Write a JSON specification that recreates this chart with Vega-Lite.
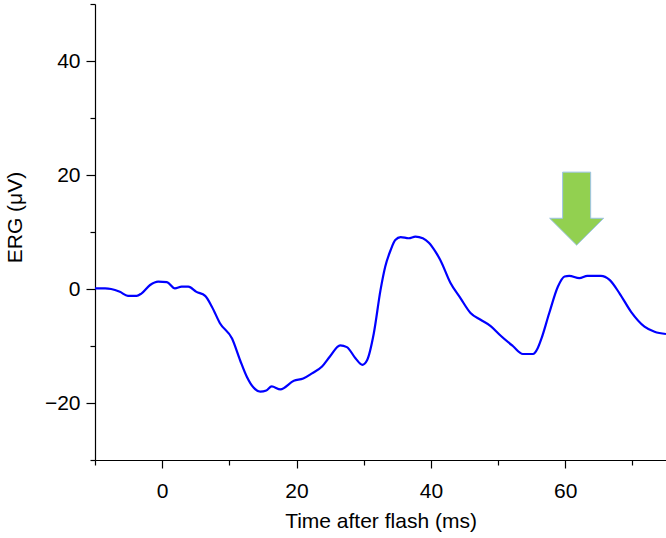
{
  "$schema": "https://vega.github.io/schema/vega-lite/v6.json",
  "width": 571,
  "height": 456,
  "autosize": "none",
  "padding": {"left": 95, "top": 4, "right": 0, "bottom": 78},
  "background": "white",
  "config": {
    "view": {"stroke": null},
    "axis": {
      "labelFont": "Liberation Sans",
      "titleFont": "Liberation Sans",
      "labelFontSize": 21,
      "titleFontSize": 21,
      "titleFontWeight": "normal",
      "labelColor": "black",
      "titleColor": "black",
      "domainColor": "black",
      "tickColor": "black",
      "domainWidth": 1.2,
      "tickWidth": 1.2,
      "grid": false
    }
  },
  "datasets": {
    "erg": [
      {"t": -10, "v": 0.1}, {"t": -8.5, "v": 0.1}, {"t": -7.6, "v": 0}, {"t": -6.3, "v": -0.5},
      {"t": -5.1, "v": -1.2}, {"t": -3.8, "v": -1.2}, {"t": -3.1, "v": -0.8}, {"t": -1.8, "v": 0.7},
      {"t": -0.6, "v": 1.3}, {"t": 0.7, "v": 1.2}, {"t": 1.9, "v": 0.1}, {"t": 2.9, "v": 0.4},
      {"t": 3.9, "v": 0.4}, {"t": 5.1, "v": -0.5}, {"t": 6.4, "v": -1.2}, {"t": 7.4, "v": -3.1},
      {"t": 8.6, "v": -6.0}, {"t": 10.4, "v": -8.7}, {"t": 11.6, "v": -12.5}, {"t": 12.6, "v": -15.4},
      {"t": 13.6, "v": -17.3}, {"t": 14.6, "v": -18.0}, {"t": 15.5, "v": -17.8}, {"t": 16.3, "v": -17.1},
      {"t": 17.6, "v": -17.6}, {"t": 19.6, "v": -16.1}, {"t": 21.0, "v": -15.7}, {"t": 22.3, "v": -14.8},
      {"t": 23.8, "v": -13.6}, {"t": 25.0, "v": -11.8}, {"t": 26.5, "v": -9.9}, {"t": 27.5, "v": -10.2},
      {"t": 28.8, "v": -12.2}, {"t": 29.8, "v": -13.3}, {"t": 30.5, "v": -12.5}, {"t": 31.5, "v": -7.8},
      {"t": 32.5, "v": -0.2}, {"t": 33.2, "v": 3.9}, {"t": 34.0, "v": 6.8}, {"t": 34.7, "v": 8.6},
      {"t": 35.5, "v": 9.1}, {"t": 36.7, "v": 8.9}, {"t": 37.7, "v": 9.2}, {"t": 38.8, "v": 8.9},
      {"t": 39.7, "v": 8.1}, {"t": 40.7, "v": 6.5}, {"t": 41.4, "v": 5.1}, {"t": 42.9, "v": 1.1},
      {"t": 44.4, "v": -1.6}, {"t": 45.9, "v": -4.2}, {"t": 47.4, "v": -5.4}, {"t": 48.9, "v": -6.5},
      {"t": 50.4, "v": -8.2}, {"t": 52.2, "v": -10.0}, {"t": 53.7, "v": -11.4}, {"t": 55.2, "v": -11.4},
      {"t": 55.9, "v": -10.4}, {"t": 56.4, "v": -8.9}, {"t": 57.6, "v": -4.3}, {"t": 58.9, "v": 0.4},
      {"t": 59.9, "v": 2.2}, {"t": 60.6, "v": 2.3}, {"t": 62.1, "v": 1.9}, {"t": 63.3, "v": 2.3},
      {"t": 65.3, "v": 2.3}, {"t": 66.6, "v": 1.6}, {"t": 68.1, "v": -0.8}, {"t": 69.8, "v": -4.0},
      {"t": 71.8, "v": -6.6}, {"t": 73.3, "v": -7.5}, {"t": 75.0, "v": -7.9}
    ],
    "arrow": [{"t": 61.7, "v": 14.1}]
  },
  "layer": [
    {
      "data": {"name": "erg"},
      "mark": {"type": "line", "color": "#0000ff", "strokeWidth": 2.2, "interpolate": "monotone", "clip": true},
      "encoding": {
        "x": {
          "field": "t", "type": "quantitative",
          "scale": {"domain": [-10, 75], "nice": false, "zero": false},
          "axis": {
            "title": "Time after flash (ms)",
            "values": [-10, 0, 10, 20, 30, 40, 50, 60, 70],
            "labelExpr": "datum.value % 20 === 0 ? datum.label : ''",
            "tickSize": {"condition": {"test": "datum.value % 20 === 0", "value": 8}, "value": 5},
            "labelPadding": 12,
            "labelFlush": false,
            "titlePadding": 9
          }
        },
        "y": {
          "field": "v", "type": "quantitative",
          "scale": {"domain": [-30, 50], "nice": false, "zero": false},
          "axis": {
            "title": "ERG (μV)",
            "titleY": 213,
            "values": [-30, -20, -10, 0, 10, 20, 30, 40, 50],
            "labelExpr": "datum.value % 20 === 0 && datum.value > -30 && datum.value < 50 ? datum.label : ''",
            "tickSize": {"condition": {"test": "datum.value % 20 === 0", "value": 9}, "value": 5},
            "labelPadding": 6,
            "labelFlush": false,
            "titlePadding": 19
          }
        }
      }
    },
    {
      "data": {"name": "arrow"},
      "mark": {
        "type": "point",
        "filled": true,
        "shape": "M -0.384 -1 L 0.384 -1 L 0.384 0.264 L 0.74 0.264 L 0 1 L -0.74 0.264 L -0.384 0.264 Z",
        "size": 5329,
        "fill": "#92d050",
        "stroke": "#9dc3e6",
        "strokeWidth": 1,
        "opacity": 1
      },
      "encoding": {
        "x": {"field": "t", "type": "quantitative"},
        "y": {"field": "v", "type": "quantitative"}
      }
    }
  ]
}
